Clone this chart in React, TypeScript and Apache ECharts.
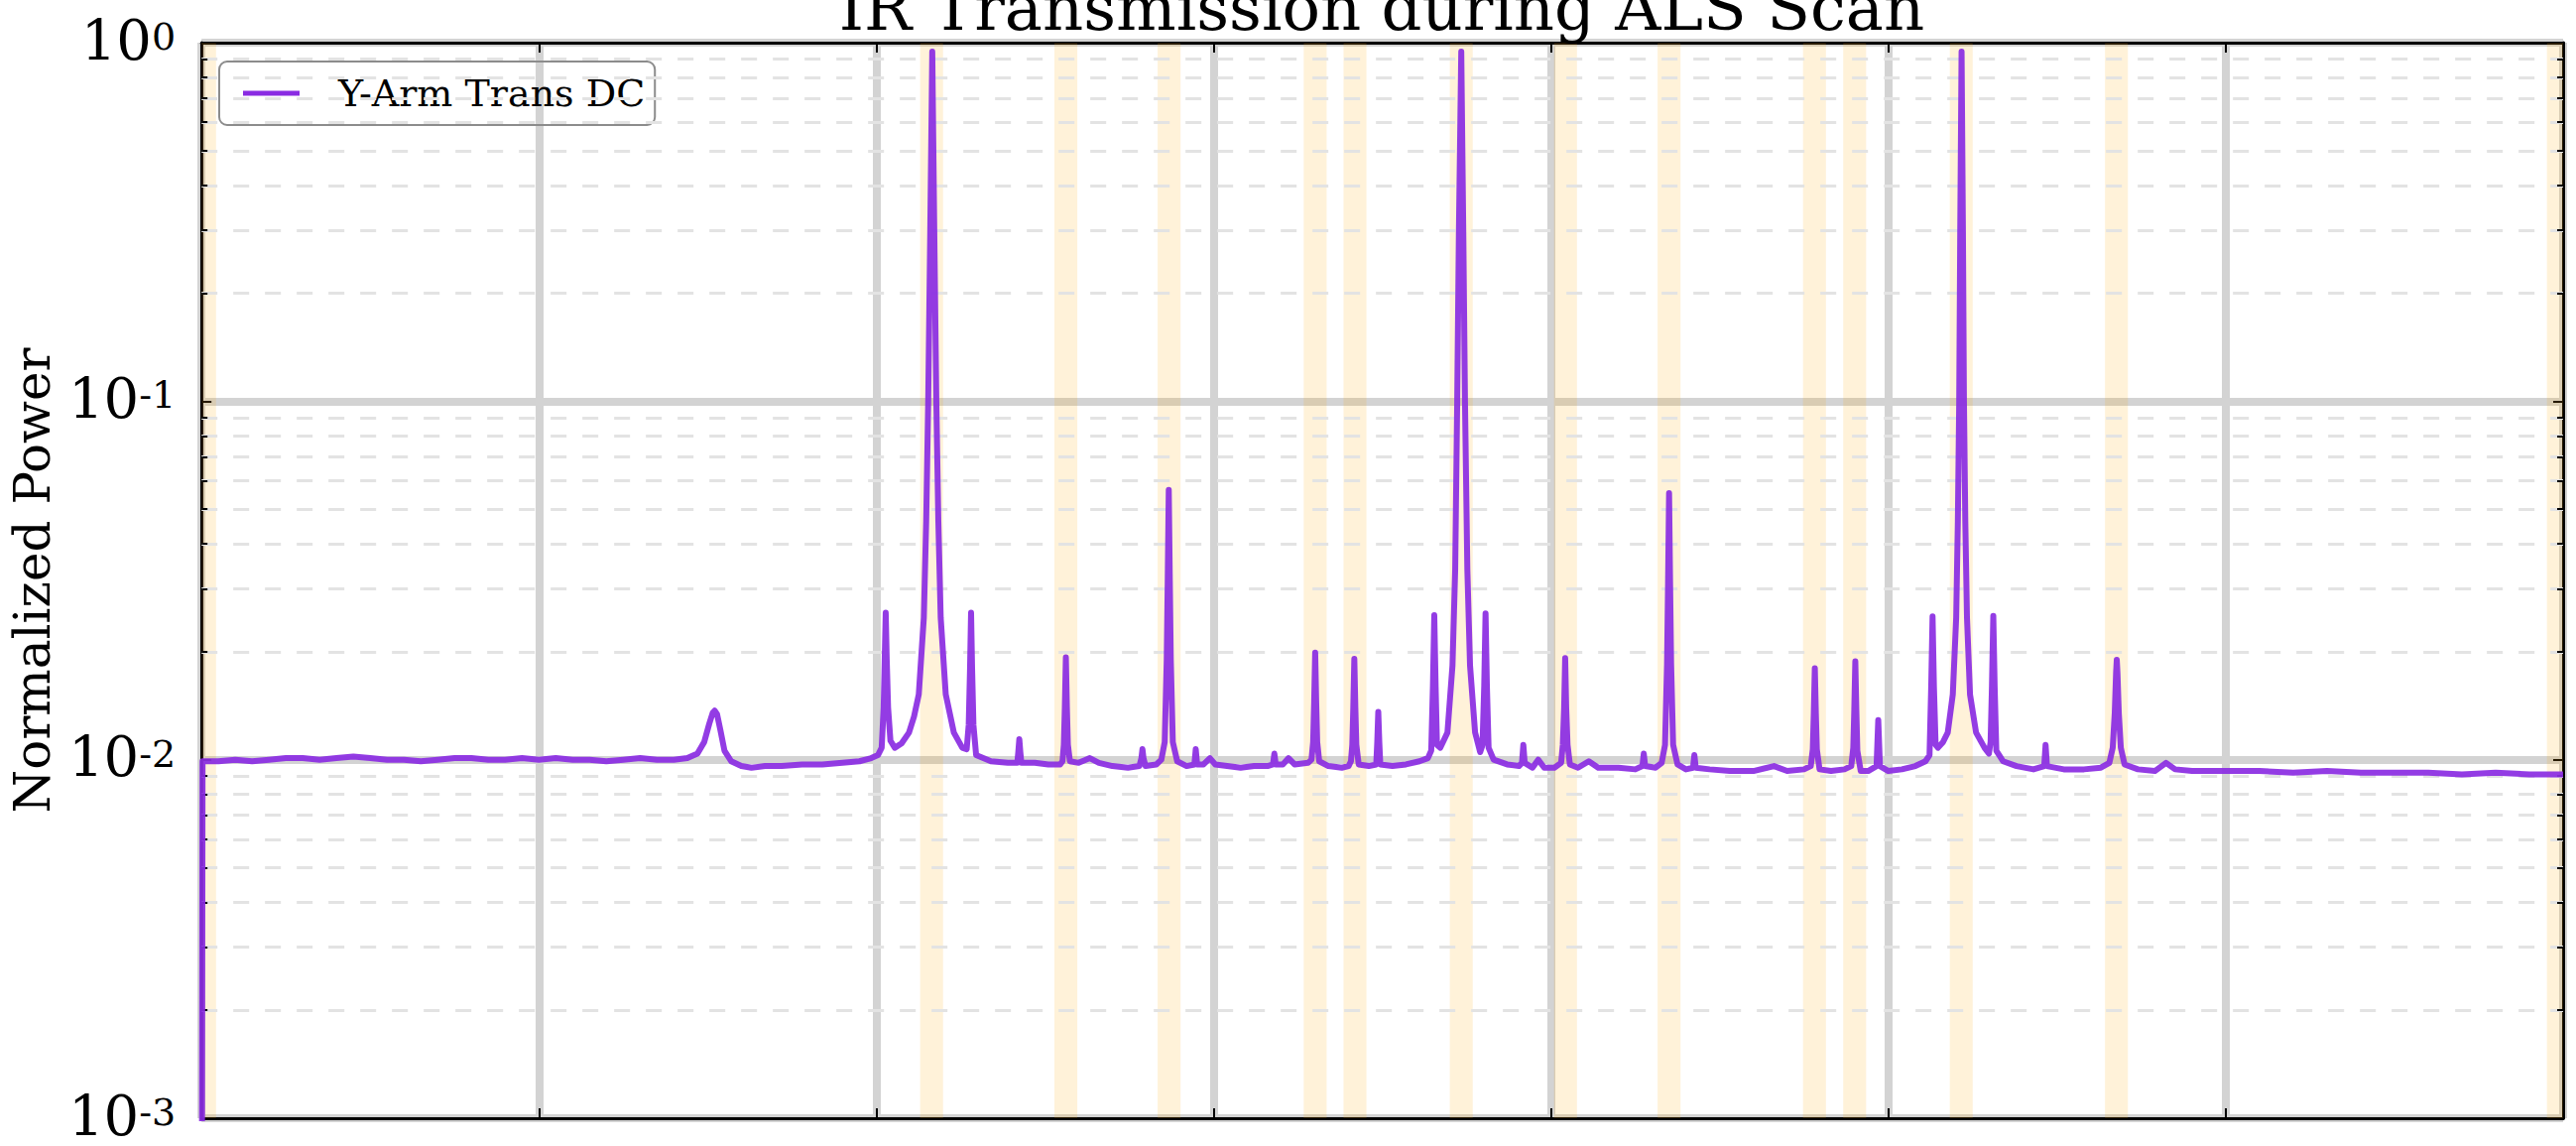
import React, { useEffect, useRef } from "react";
import * as echarts from "echarts";

const TITLE = "IR Transmission during ALS Scan";
const Y_NAME = "Normalized Power";
const SERIES_NAME = "Y-Arm Trans DC";

const X_MIN = 0;
const X_MAX = 7;
const X_INTERVAL = 1;
const Y_MIN = 0.001;
const Y_MAX = 1;

const MINOR_Y = [
  0.002, 0.003, 0.004, 0.005, 0.006, 0.007, 0.008, 0.009,
  0.02, 0.03, 0.04, 0.05, 0.06, 0.07, 0.08, 0.09,
  0.2, 0.3, 0.4, 0.5, 0.6, 0.7, 0.8, 0.9,
];

const SHADED_SPANS = [
  [0, 0.043], [2.13, 2.198], [2.528, 2.596], [2.834, 2.902], [3.267, 3.335],
  [3.385, 3.453], [3.7, 3.768], [4.009, 4.077], [4.316, 4.384], [4.747, 4.815],
  [4.866, 4.934], [5.182, 5.25], [5.642, 5.71], [6.952, 7.0],
];

const SCAN_START = [
  [0.0, 0.0001], [0.003, 0.0099], [0.05, 0.0099], [0.1, 0.01], [0.15, 0.0099], [0.2, 0.01],
  [0.25, 0.0101], [0.3, 0.0101], [0.35, 0.01], [0.4, 0.0101], [0.45, 0.0102], [0.5, 0.0101],
  [0.55, 0.01], [0.6, 0.01], [0.65, 0.0099], [0.7, 0.01], [0.75, 0.0101], [0.8, 0.0101],
  [0.85, 0.01], [0.9, 0.01], [0.95, 0.0101], [1.0, 0.01], [1.05, 0.0101], [1.1, 0.01],
  [1.15, 0.01], [1.2, 0.0099], [1.25, 0.01], [1.3, 0.0101], [1.35, 0.01], [1.4, 0.01],
  [1.44, 0.0101], [1.47, 0.0104], [1.49, 0.0112], [1.505, 0.0126], [1.515, 0.0135],
  [1.521, 0.0137], [1.528, 0.0134], [1.538, 0.0121], [1.55, 0.0106], [1.57, 0.0099],
  [1.6, 0.0096], [1.63, 0.0095], [1.67, 0.0096], [1.72, 0.0096], [1.78, 0.0097],
  [1.84, 0.0097], [1.9, 0.0098], [1.95, 0.0099], [1.985, 0.0101], [2.005, 0.0103],
];

const SCAN_FIRST_RESONANCE = [
  [2.016, 0.0108], [2.022, 0.014], [2.025, 0.019], [2.028, 0.0257], [2.031, 0.019],
  [2.035, 0.014], [2.042, 0.0113], [2.055, 0.0108], [2.075, 0.0111], [2.097, 0.0119],
  [2.112, 0.0132], [2.126, 0.0152], [2.141, 0.0249], [2.148, 0.0463], [2.154, 0.1],
  [2.16, 0.296], [2.166, 0.944], [2.172, 0.296], [2.178, 0.1], [2.184, 0.0463],
  [2.191, 0.0249], [2.206, 0.0152], [2.23, 0.0119], [2.255, 0.0108], [2.268, 0.0107],
  [2.274, 0.0125], [2.278, 0.018], [2.281, 0.0257], [2.284, 0.018], [2.288, 0.0125],
  [2.296, 0.0103], [2.34, 0.0099], [2.39, 0.0098], [2.418, 0.0098], [2.421, 0.0105],
  [2.424, 0.0114], [2.427, 0.0105], [2.43, 0.0098], [2.47, 0.0098], [2.51, 0.0097],
  [2.545, 0.0097],
];

const SCAN_MIDDLE_A = [
  [2.552, 0.0099], [2.556, 0.011], [2.559, 0.014], [2.562, 0.0193], [2.565, 0.014],
  [2.568, 0.011], [2.574, 0.0099], [2.6, 0.0098], [2.633, 0.0101], [2.66, 0.0098],
  [2.7, 0.0096], [2.746, 0.0095], [2.78, 0.0096], [2.786, 0.0101], [2.789, 0.0107],
  [2.792, 0.0101], [2.798, 0.0096], [2.83, 0.0097], [2.845, 0.01], [2.855, 0.0112],
  [2.861, 0.019], [2.864, 0.032], [2.867, 0.0566], [2.87, 0.032], [2.873, 0.019],
  [2.879, 0.0112], [2.892, 0.0099], [2.92, 0.0096], [2.943, 0.0097], [2.947, 0.0107],
  [2.951, 0.0097], [2.97, 0.0097], [2.989, 0.0101], [3.005, 0.0097], [3.04, 0.0096],
  [3.08, 0.0095], [3.12, 0.0096], [3.16, 0.0096], [3.176, 0.0097], [3.18, 0.0104],
  [3.184, 0.0097], [3.205, 0.0097], [3.222, 0.0101], [3.24, 0.0097], [3.28, 0.0098],
  [3.29, 0.01], [3.295, 0.0112], [3.298, 0.0145], [3.301, 0.0199], [3.304, 0.0145],
  [3.307, 0.0112], [3.313, 0.0099], [3.34, 0.0096], [3.38, 0.0095], [3.4, 0.0096],
  [3.407, 0.0099], [3.411, 0.011], [3.414, 0.014], [3.417, 0.0191], [3.42, 0.014],
  [3.423, 0.011], [3.43, 0.0097], [3.46, 0.0096], [3.482, 0.0097], [3.485, 0.0112],
  [3.488, 0.0136], [3.491, 0.0112], [3.494, 0.0097], [3.53, 0.0096], [3.57, 0.0097],
  [3.61, 0.0099], [3.635, 0.0101],
];

const SCAN_SECOND_RESONANCE = [
  [3.645, 0.0106], [3.65, 0.016], [3.654, 0.0253], [3.658, 0.016], [3.662, 0.011],
  [3.672, 0.0108], [3.693, 0.0119], [3.708, 0.0183], [3.716, 0.034], [3.722, 0.1],
  [3.727, 0.296], [3.734, 0.944], [3.74, 0.296], [3.745, 0.1], [3.752, 0.034],
  [3.76, 0.0183], [3.775, 0.0119], [3.79, 0.0105], [3.797, 0.011], [3.802, 0.016],
  [3.806, 0.0256], [3.81, 0.016], [3.815, 0.0108], [3.83, 0.01], [3.87, 0.0097],
  [3.905, 0.0096], [3.914, 0.0098], [3.918, 0.011], [3.922, 0.0098], [3.945, 0.0095],
  [3.962, 0.01], [3.98, 0.0095], [4.01, 0.0095],
];

const SCAN_MIDDLE_B = [
  [4.03, 0.0098], [4.035, 0.011], [4.039, 0.014], [4.042, 0.0192], [4.045, 0.014],
  [4.049, 0.011], [4.056, 0.0097], [4.08, 0.0095], [4.112, 0.0099], [4.14, 0.0095],
  [4.2, 0.0095], [4.25, 0.0094], [4.271, 0.0096], [4.275, 0.0104], [4.279, 0.0096],
  [4.31, 0.0095], [4.328, 0.0098], [4.338, 0.011], [4.344, 0.0185], [4.347, 0.031],
  [4.35, 0.0554], [4.353, 0.031], [4.356, 0.0185], [4.362, 0.011], [4.375, 0.0097],
  [4.4, 0.0094], [4.421, 0.0095], [4.425, 0.0103], [4.429, 0.0095], [4.47, 0.0094],
  [4.53, 0.0093], [4.6, 0.0093], [4.661, 0.0096], [4.7, 0.0093], [4.75, 0.0094],
  [4.77, 0.0096], [4.776, 0.0107], [4.779, 0.0135], [4.782, 0.018], [4.785, 0.0135],
  [4.788, 0.0107], [4.796, 0.0094], [4.83, 0.0093], [4.87, 0.0094], [4.89, 0.0096],
  [4.896, 0.0108], [4.899, 0.0138], [4.902, 0.0188], [4.905, 0.0138], [4.908, 0.0106],
  [4.918, 0.0093], [4.94, 0.0093], [4.965, 0.0096], [4.97, 0.0129], [4.975, 0.0096],
  [5.0, 0.0093], [5.04, 0.0094], [5.08, 0.0096], [5.11, 0.0099],
];

const SCAN_THIRD_RESONANCE = [
  [5.122, 0.0103], [5.127, 0.016], [5.131, 0.0251], [5.135, 0.016], [5.14, 0.011],
  [5.147, 0.0108], [5.162, 0.0112], [5.176, 0.0119], [5.191, 0.0152], [5.201, 0.0249],
  [5.206, 0.0463], [5.21, 0.1], [5.213, 0.296], [5.217, 0.944], [5.221, 0.296],
  [5.224, 0.1], [5.228, 0.0463], [5.233, 0.0249], [5.242, 0.0152], [5.26, 0.0119],
  [5.285, 0.0108], [5.298, 0.0104], [5.303, 0.0112], [5.307, 0.016], [5.311, 0.0252],
  [5.315, 0.016], [5.32, 0.0106], [5.34, 0.0099], [5.38, 0.0096], [5.43, 0.0094],
];

const SCAN_END = [
  [5.462, 0.0096], [5.466, 0.011], [5.47, 0.0096], [5.52, 0.0094], [5.58, 0.0094],
  [5.63, 0.0095], [5.655, 0.0098], [5.665, 0.0108], [5.671, 0.0135], [5.675, 0.0175],
  [5.677, 0.019], [5.679, 0.0175], [5.683, 0.0135], [5.689, 0.0108], [5.7, 0.0097],
  [5.74, 0.0094], [5.79, 0.0093], [5.823, 0.0098], [5.85, 0.0094], [5.9, 0.0093],
  [6.0, 0.0093], [6.1, 0.0093], [6.2, 0.0092], [6.3, 0.0093], [6.4, 0.0092],
  [6.5, 0.0092], [6.6, 0.0092], [6.7, 0.0091], [6.8, 0.0092], [6.9, 0.0091], [7.0, 0.0091],
];

const SCAN = [
  ...SCAN_START,
  ...SCAN_FIRST_RESONANCE,
  ...SCAN_MIDDLE_A,
  ...SCAN_SECOND_RESONANCE,
  ...SCAN_MIDDLE_B,
  ...SCAN_THIRD_RESONANCE,
  ...SCAN_END,
];

const FONT = "DejaVu Serif";
const LINE_COLOR = "#8a2be2";
const GRID_COLOR = "#d3d3d3";
const MINOR_GRID_COLOR = "#e3e3e3";
const MINOR_TICK_LEN = 0.0176; // in x units (~6px)

export default function App() {
  const ref = useRef<HTMLDivElement | null>(null);

  useEffect(() => {
    if (!ref.current) return;
    const chart = echarts.init(ref.current, undefined, { renderer: "svg" });

    const axisLineStyle = { color: "#000", width: 3 };
    const tickStyle = { color: "#000", width: 2 };

    const option: any = {
      animation: false,
      backgroundColor: "#ffffff",
      title: {
        text: TITLE,
        left: 1393,
        top: -24,
        textAlign: "center",
        padding: 0,
        textStyle: { fontFamily: FONT, fontSize: 64, fontWeight: "normal", color: "#000" },
      },
      legend: {
        left: 221,
        top: 62,
        padding: [13, 10, 13, 24],
        borderColor: "#8c8c8c",
        borderWidth: 2,
        borderRadius: 8,
        backgroundColor: "transparent",
        icon: "rect",
        itemWidth: 57,
        itemHeight: 5,
        selectedMode: false,
        textStyle: { fontFamily: FONT, fontSize: 38, color: "#000", padding: [0, 0, 0, 34] },
        data: [{ name: SERIES_NAME, itemStyle: { color: LINE_COLOR } }],
      },
      grid: { left: 203, top: 43, width: 2381, height: 1084, containLabel: false },
      xAxis: [
        {
          type: "value",
          min: X_MIN,
          max: X_MAX,
          interval: X_INTERVAL,
          position: "bottom",
          axisLine: { show: true, onZero: false, lineStyle: axisLineStyle },
          axisTick: { show: true, inside: true, length: 10, lineStyle: tickStyle },
          axisLabel: { show: false },
          splitLine: { show: true, lineStyle: { color: GRID_COLOR, width: 8 } },
        },
        {
          type: "value",
          min: X_MIN,
          max: X_MAX,
          interval: X_INTERVAL,
          position: "top",
          axisLine: { show: true, onZero: false, lineStyle: axisLineStyle },
          axisTick: { show: true, inside: true, length: 10, lineStyle: tickStyle },
          axisLabel: { show: false },
          splitLine: { show: false },
        },
      ],
      yAxis: [
        {
          type: "log",
          logBase: 10,
          min: Y_MIN,
          max: Y_MAX,
          position: "left",
          name: Y_NAME,
          nameLocation: "middle",
          nameGap: 142,
          nameTextStyle: { fontFamily: FONT, fontSize: 50, color: "#000" },
          axisLine: { show: true, onZero: false, lineStyle: axisLineStyle },
          axisTick: { show: true, inside: true, length: 10, lineStyle: tickStyle },
          axisLabel: {
            show: true,
            showMinLabel: true,
            showMaxLabel: true,
            margin: 26,
            formatter: (v: number) => {
              const e = Math.round(Math.log10(v));
              return `{b|10}{s|${e}}`;
            },
            rich: {
              b: { fontFamily: FONT, fontSize: 56, color: "#000", lineHeight: 50, verticalAlign: "bottom" },
              s: { fontFamily: FONT, fontSize: 38, color: "#000", lineHeight: 30, verticalAlign: "top" },
            },
          },
          splitLine: { show: true, lineStyle: { color: GRID_COLOR, width: 8 } },
        },
        {
          type: "log",
          logBase: 10,
          min: Y_MIN,
          max: Y_MAX,
          position: "right",
          axisLine: { show: true, onZero: false, lineStyle: axisLineStyle },
          axisTick: { show: true, inside: true, length: 10, lineStyle: tickStyle },
          axisLabel: { show: false },
          splitLine: { show: false },
        },
      ],
      series: [
        {
          type: "line",
          data: [[X_MIN, Y_MAX]],
          symbol: "none",
          silent: true,
          lineStyle: { opacity: 0 },
          z: 1,
          markArea: {
            silent: true,
            itemStyle: { color: "rgba(255,165,0,0.15)" },
            label: { show: false },
            data: SHADED_SPANS.map(([a, b]) => [{ xAxis: a }, { xAxis: b }]),
          },
        },
        {
          type: "line",
          data: [[X_MIN, Y_MAX]],
          symbol: "none",
          silent: true,
          lineStyle: { opacity: 0 },
          z: 2,
          markLine: {
            silent: true,
            symbol: ["none", "none"],
            label: { show: false },
            lineStyle: { color: MINOR_GRID_COLOR, width: 3, type: [16, 16] },
            emphasis: { disabled: true },
            data: MINOR_Y.map((v) => [{ coord: [X_MIN, v] }, { coord: [X_MAX, v] }]),
          },
        },
        {
          type: "line",
          name: SERIES_NAME,
          data: SCAN,
          symbol: "none",
          showSymbol: false,
          silent: true,
          clip: true,
          z: 5,
          itemStyle: { color: LINE_COLOR },
          lineStyle: { color: LINE_COLOR, width: 6, opacity: 0.92, join: "round" },
        },
        {
          type: "line",
          data: [[X_MIN, Y_MAX]],
          symbol: "none",
          silent: true,
          lineStyle: { opacity: 0 },
          z: 6,
          markLine: {
            silent: true,
            symbol: ["none", "none"],
            label: { show: false },
            lineStyle: { color: "#000", width: 2, type: "solid" },
            emphasis: { disabled: true },
            data: [
              ...MINOR_Y.map((v) => [{ coord: [X_MIN, v] }, { coord: [X_MIN + MINOR_TICK_LEN, v] }]),
              ...MINOR_Y.map((v) => [{ coord: [X_MAX - MINOR_TICK_LEN, v] }, { coord: [X_MAX, v] }]),
            ],
          },
        },
      ],
    };

    chart.setOption(option);
    return () => chart.dispose();
  }, []);

  return (
    <div
      ref={ref}
      style={{ position: "absolute", left: 0, top: 0, width: 2597, height: 1155, background: "#fff" }}
    />
  );
}
